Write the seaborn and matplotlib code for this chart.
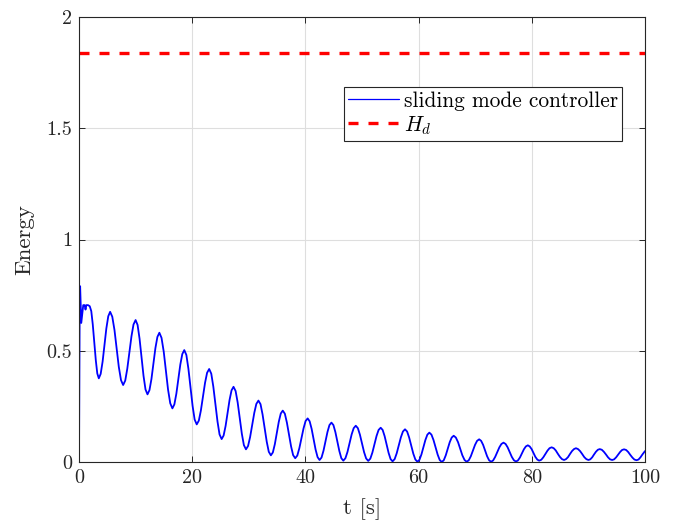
import matplotlib
matplotlib.use("Agg")
import matplotlib.pyplot as plt
import seaborn as sns
import pandas as pd
from matplotlib.ticker import FixedLocator, FixedFormatter

# ---- data (time in s, energy) ----
time_s = [
    0.0, 0.05, 0.12, 0.2, 0.3, 0.4, 0.55, 0.75, 1.0, 1.15, 1.3, 1.6, 1.9,
    2.17, 2.43, 2.70, 2.97, 3.23, 3.5,
    3.83, 4.17, 4.50, 4.83, 5.17, 5.5,
    5.88, 6.27, 6.65, 7.03, 7.42, 7.8,
    8.17, 8.53, 8.90, 9.27, 9.63, 10.0,
    10.35, 10.70, 11.05, 11.40, 11.75, 12.1,
    12.45, 12.80, 13.15, 13.50, 13.85, 14.2,
    14.58, 14.97, 15.35, 15.73, 16.12, 16.5,
    16.85, 17.20, 17.55, 17.90, 18.25, 18.6,
    18.97, 19.33, 19.70, 20.07, 20.43, 20.8,
    21.17, 21.53, 21.90, 22.27, 22.63, 23.0,
    23.37, 23.73, 24.10, 24.47, 24.83, 25.2,
    25.55, 25.90, 26.25, 26.60, 26.95, 27.3,
    27.67, 28.03, 28.40, 28.77, 29.13, 29.5,
    29.87, 30.23, 30.60, 30.97, 31.33, 31.7,
    32.07, 32.43, 32.80, 33.17, 33.53, 33.9,
    34.25, 34.60, 34.95, 35.30, 35.65, 36.0,
    36.37, 36.73, 37.10, 37.47, 37.83, 38.2,
    38.57, 38.93, 39.30, 39.67, 40.03, 40.4,
    40.75, 41.10, 41.45, 41.80, 42.15, 42.5,
    42.85, 43.20, 43.55, 43.90, 44.25, 44.6,
    44.95, 45.30, 45.65, 46.00, 46.35, 46.7,
    47.07, 47.43, 47.80, 48.17, 48.53, 48.9,
    49.27, 49.63, 50.00, 50.37, 50.73, 51.1,
    51.47, 51.83, 52.20, 52.57, 52.93, 53.3,
    53.65, 54.00, 54.35, 54.70, 55.05, 55.4,
    55.77, 56.13, 56.50, 56.87, 57.23, 57.6,
    57.97, 58.33, 58.70, 59.07, 59.43, 59.8,
    60.15, 60.50, 60.85, 61.20, 61.55, 61.9,
    62.27, 62.63, 63.00, 63.37, 63.73, 64.1,
    64.45, 64.80, 65.15, 65.50, 65.85, 66.2,
    66.58, 66.97, 67.35, 67.73, 68.12, 68.5,
    68.87, 69.23, 69.60, 69.97, 70.33, 70.7,
    71.05, 71.40, 71.75, 72.10, 72.45, 72.8,
    73.17, 73.53, 73.90, 74.27, 74.63, 75.0,
    75.37, 75.73, 76.10, 76.47, 76.83, 77.2,
    77.55, 77.90, 78.25, 78.60, 78.95, 79.3,
    79.63, 79.97, 80.30, 80.63, 80.97, 81.3,
    81.67, 82.03, 82.40, 82.77, 83.13, 83.5,
    83.87, 84.23, 84.60, 84.97, 85.33, 85.7,
    86.05, 86.40, 86.75, 87.10, 87.45, 87.8,
    88.17, 88.53, 88.90, 89.27, 89.63, 90.0,
    90.33, 90.67, 91.00, 91.33, 91.67, 92.0,
    92.37, 92.73, 93.10, 93.47, 93.83, 94.2,
    94.55, 94.90, 95.25, 95.60, 95.95, 96.3,
    96.67, 97.03, 97.40, 97.77, 98.13, 98.5,
    98.85, 99.20, 99.55, 100.0,
]
energy = [
    0.0, 0.35, 0.72, 0.79, 0.70, 0.625, 0.66, 0.705, 0.705, 0.685, 0.705, 0.705, 0.700,
    0.678, 0.619, 0.538, 0.457, 0.398, 0.376,
    0.396, 0.451, 0.526, 0.600, 0.655, 0.675,
    0.653, 0.593, 0.510, 0.428, 0.368, 0.346,
    0.366, 0.419, 0.492, 0.565, 0.618, 0.638,
    0.616, 0.554, 0.471, 0.387, 0.326, 0.304,
    0.323, 0.373, 0.443, 0.512, 0.562, 0.581,
    0.558, 0.496, 0.411, 0.326, 0.264, 0.241,
    0.259, 0.307, 0.372, 0.438, 0.485, 0.503,
    0.481, 0.419, 0.336, 0.252, 0.191, 0.169,
    0.186, 0.231, 0.294, 0.356, 0.401, 0.418,
    0.397, 0.339, 0.260, 0.182, 0.124, 0.103,
    0.119, 0.162, 0.221, 0.279, 0.322, 0.338,
    0.319, 0.268, 0.197, 0.127, 0.076, 0.057,
    0.072, 0.112, 0.167, 0.221, 0.261, 0.276,
    0.260, 0.214, 0.153, 0.091, 0.046, 0.030,
    0.043, 0.080, 0.131, 0.181, 0.218, 0.231,
    0.217, 0.177, 0.124, 0.070, 0.031, 0.017,
    0.029, 0.062, 0.107, 0.151, 0.184, 0.196,
    0.183, 0.149, 0.102, 0.056, 0.022, 0.009,
    0.020, 0.051, 0.093, 0.135, 0.166, 0.177,
    0.166, 0.134, 0.091, 0.049, 0.017, 0.006,
    0.017, 0.045, 0.085, 0.124, 0.152, 0.163,
    0.152, 0.123, 0.084, 0.044, 0.016, 0.005,
    0.015, 0.042, 0.080, 0.117, 0.144, 0.154,
    0.144, 0.116, 0.078, 0.041, 0.013, 0.003,
    0.013, 0.039, 0.075, 0.111, 0.137, 0.147,
    0.137, 0.110, 0.074, 0.037, 0.011, 0.001,
    0.010, 0.034, 0.067, 0.099, 0.123, 0.132,
    0.123, 0.099, 0.066, 0.033, 0.009, 0.000,
    0.008, 0.030, 0.059, 0.089, 0.110, 0.118,
    0.110, 0.089, 0.059, 0.030, 0.009, 0.001,
    0.008, 0.026, 0.052, 0.077, 0.095, 0.102,
    0.095, 0.077, 0.052, 0.026, 0.008, 0.001,
    0.007, 0.023, 0.044, 0.066, 0.081, 0.087,
    0.081, 0.066, 0.044, 0.023, 0.008, 0.002,
    0.007, 0.020, 0.039, 0.057, 0.070, 0.075,
    0.070, 0.058, 0.040, 0.023, 0.011, 0.006,
    0.010, 0.021, 0.036, 0.051, 0.062, 0.066,
    0.062, 0.052, 0.037, 0.023, 0.013, 0.009,
    0.013, 0.022, 0.036, 0.049, 0.058, 0.062,
    0.058, 0.049, 0.036, 0.022, 0.013, 0.009,
    0.012, 0.021, 0.034, 0.046, 0.055, 0.058,
    0.055, 0.046, 0.034, 0.021, 0.012, 0.009,
    0.012, 0.021, 0.033, 0.045, 0.054, 0.057,
    0.054, 0.045, 0.032, 0.020, 0.011, 0.008,
    0.011, 0.021, 0.034, 0.049,
]
hd_value = 1.837
x_ticks = [0, 20, 40, 60, 80, 100]
x_tick_labels = ["0", "20", "40", "60", "80", "100"]
y_ticks = [0, 0.5, 1, 1.5, 2]
y_tick_labels = ["0", "0.5", "1", "1.5", "2"]
series_label = "sliding mode controller"
hd_label = r"$H_d$"
x_label = "t [s]"
y_label = "Energy"

# ---- styling ----
sns.set_theme(style="whitegrid")
plt.rcParams.update({
    "font.family": "serif",
    "font.serif": ["cmr10", "DejaVu Serif"],
    "mathtext.fontset": "cm",
    "axes.formatter.use_mathtext": True,
    "font.size": 15,
})

fig = plt.figure(figsize=(6.73, 5.22), dpi=100)
ax = fig.add_axes([79 / 673, 60 / 522, 566 / 673, 445 / 522])
ax.set_facecolor("white")

df = pd.DataFrame({"t": time_s, "E": energy})
sns.lineplot(data=df, x="t", y="E", ax=ax, color=(0, 0, 1), linewidth=1.3,
             label=series_label, estimator=None, sort=False)
ax.axhline(hd_value, color=(1, 0, 0), linewidth=2.4, dashes=(3, 3), label=hd_label)

ax.set_xlim(0, 100)
ax.set_ylim(0, 2)
ax.xaxis.set_major_locator(FixedLocator(x_ticks))
ax.xaxis.set_major_formatter(FixedFormatter(x_tick_labels))
ax.yaxis.set_major_locator(FixedLocator(y_ticks))
ax.yaxis.set_major_formatter(FixedFormatter(y_tick_labels))

ax.grid(True, color="#dedede", linewidth=0.8)
for s in ax.spines.values():
    s.set_color("#262626")
    s.set_linewidth(0.8)
    s.set_visible(True)
ax.tick_params(direction="in", length=4, width=0.7, color="#262626",
               labelsize=14.5, labelcolor="#262626", top=True, right=True,
               bottom=True, left=True, pad=5)

ax.set_xlabel(x_label, fontsize=16.5, color="#262626", labelpad=8)
ax.set_ylabel(y_label, fontsize=16.5, color="#262626", labelpad=9)

leg = ax.legend(loc="upper right", bbox_to_anchor=(0.96, 0.843), fontsize=15.4,
                frameon=True, fancybox=False, framealpha=1, edgecolor="#262626",
                handlelength=2.4, handletextpad=0.22, borderpad=0.2,
                labelspacing=0.15, borderaxespad=0)
leg.get_frame().set_linewidth(0.8)
leg.get_lines()[0].set_linewidth(0.9)
for txt in leg.get_texts():
    txt.set_color("black")

fig.savefig("out.png", dpi=100)
